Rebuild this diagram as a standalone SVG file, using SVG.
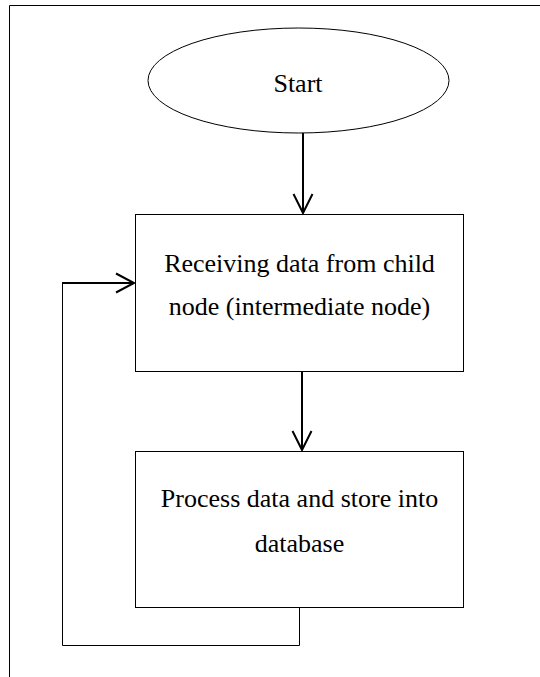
<svg xmlns="http://www.w3.org/2000/svg" width="540" height="677" viewBox="0 0 540 677">
  <style>
    .shape { fill: #fff; stroke: #000; stroke-width: 1; }
    .label { font-family: "Liberation Serif", "Times New Roman", serif; font-size: 26px; fill: #000; text-anchor: middle; }
    .flow { fill: none; stroke: #000; stroke-width: 2; }
    .thin { fill: none; stroke: #000; stroke-width: 1; }
    .head { fill: none; stroke: #000; stroke-width: 2; stroke-linejoin: miter; }
  </style>

  <rect width="540" height="677" fill="#fff"/>

  <!-- page frame: top and left edges -->
  <path class="thin" d="M540 5.5 H9.5 V677"/>

  <g id="start">
    <ellipse class="shape" cx="298.5" cy="80.5" rx="150.5" ry="52.5"/>
    <text class="label" x="298" y="92">Start</text>
  </g>

  <g id="receive">
    <rect class="shape" x="135.5" y="214.5" width="328" height="157"/>
    <text class="label" x="299.5" y="272">Receiving data from child</text>
    <text class="label" x="299.5" y="315">node (intermediate node)</text>
  </g>

  <g id="process">
    <rect class="shape" x="135.5" y="451.5" width="328" height="156"/>
    <text class="label" x="299.5" y="507">Process data and store into</text>
    <text class="label" x="299.5" y="552">database</text>
  </g>

  <g id="connectors">
    <!-- start to receive -->
    <line class="flow" x1="303" y1="133" x2="303" y2="213"/>
    <path class="head" d="M293.5 194 L303 213 L312.5 194"/>

    <!-- receive to process -->
    <line class="flow" x1="302" y1="372" x2="302" y2="450"/>
    <path class="head" d="M292.5 431 L302 450 L311.5 431"/>

    <!-- loop back from process to receive -->
    <path class="thin" d="M299.5 608 V645.5 H62.5 V283"/>
    <line class="flow" x1="62" y1="283" x2="134" y2="283"/>
    <path class="head" d="M116 273.5 L134 283 L116 292.5"/>
  </g>
</svg>
